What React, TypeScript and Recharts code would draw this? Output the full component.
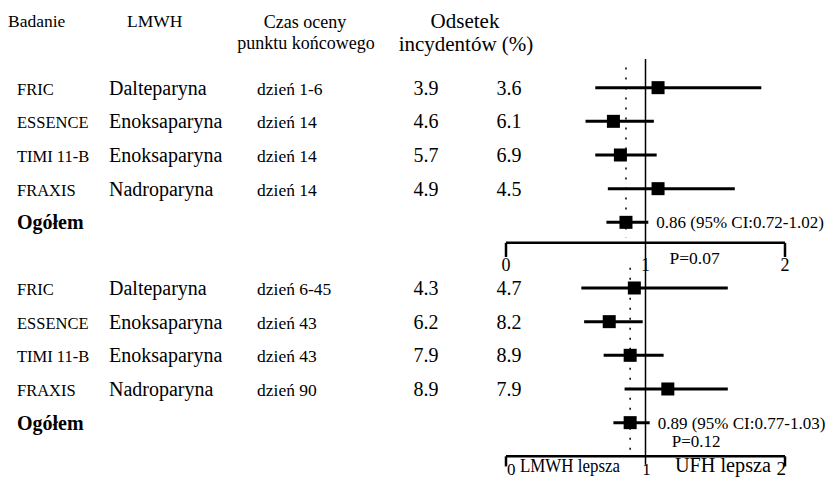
import { ScatterChart, Scatter, XAxis, YAxis, ErrorBar, ReferenceLine, ReferenceDot } from 'recharts';

const studies = ['FRIC', 'ESSENCE', 'TIMI 11-B', 'FRAXIS'];
const drugs = ['Dalteparyna', 'Enoksaparyna', 'Enoksaparyna', 'Nadroparyna'];
const daysEarly = ['dzień 1-6', 'dzień 14', 'dzień 14', 'dzień 14'];
const daysLate = ['dzień 6-45', 'dzień 43', 'dzień 43', 'dzień 90'];
const lmwhRateEarly = [3.9, 4.6, 5.7, 4.9];
const ufhRateEarly = [3.6, 6.1, 6.9, 4.5];
const lmwhRateLate = [4.3, 6.2, 7.9, 8.9];
const ufhRateLate = [4.7, 8.2, 8.9, 7.9];
const ratioEarly = [1.09, 0.77, 0.82, 1.09];
const lowEarly = [0.64, 0.57, 0.64, 0.73];
const highEarly = [1.83, 1.06, 1.08, 1.64];
const ratioLate = [0.92, 0.74, 0.89, 1.16];
const lowLate = [0.54, 0.56, 0.7, 0.85];
const highLate = [1.59, 0.98, 1.13, 1.59];
const pooledRatio = [0.86, 0.89];
const pooledLow = [0.72, 0.77];
const pooledHigh = [1.02, 1.03];
const pValues = ['0.07', '0.12'];

// layout (row units on the y scale)
const GROUP_START = [0, 5.95];
const AXIS_Y = [4.61, 10.95];
const serif = '"Liberation Serif", "Times New Roman", serif';

interface Row {
  pos: number;
  study: string;
  drug?: string;
  day?: string;
  lmwh?: number;
  ufh?: number;
  or: number;
  err: [number, number];
  pooled: boolean;
}

function buildGroup(g: number, days: string[], lm: number[], uf: number[], r: number[], lo: number[], hi: number[]): Row[] {
  const rows: Row[] = studies.map((s, i) => ({
    pos: GROUP_START[g] + i,
    study: s,
    drug: drugs[i],
    day: days[i],
    lmwh: lm[i],
    ufh: uf[i],
    or: r[i],
    err: [r[i] - lo[i], hi[i] - r[i]],
    pooled: false,
  }));
  rows.push({
    pos: GROUP_START[g] + 4,
    study: 'Ogółem',
    or: pooledRatio[g],
    err: [pooledRatio[g] - pooledLow[g], pooledHigh[g] - pooledRatio[g]],
    pooled: true,
  });
  return rows;
}

const rows = [
  ...buildGroup(0, daysEarly, lmwhRateEarly, ufhRateEarly, ratioEarly, lowEarly, highEarly),
  ...buildGroup(1, daysLate, lmwhRateLate, ufhRateLate, ratioLate, lowLate, highLate),
];

function T({ x, y, size, children, anchor = 'start', bold = false, len }: any) {
  return (
    <text
      x={x}
      y={y}
      fontSize={size}
      fontFamily={serif}
      fontWeight={bold ? 700 : 400}
      textAnchor={anchor}
      fill="#000"
      textLength={len}
      lengthAdjust={len ? 'spacingAndGlyphs' : undefined}
    >
      {children}
    </text>
  );
}

function RowTick(props: any) {
  const { y, payload } = props;
  const row = rows.find(r => Math.abs(r.pos - payload.value) < 1e-6);
  if (!row) return null;
  const b = y + 7;
  if (row.pooled) {
    return <T x={17} y={b} size={20} bold>{row.study}</T>;
  }
  return (
    <g>
      <T x={17} y={b} size={16.5}>{row.study}</T>
      <T x={109} y={b} size={20}>{row.drug}</T>
      <T x={257} y={b} size={17.5}>{row.day}</T>
      <T x={426} y={b} size={20} anchor="middle">{row.lmwh!.toFixed(1)}</T>
      <T x={509} y={b} size={20} anchor="middle">{row.ufh!.toFixed(1)}</T>
    </g>
  );
}

const Square = (p: any) => <rect x={p.cx - 6.5} y={p.cy - 6.5} width={13} height={13} fill="#000" />;

export default function App() {
  return (
    <div style={{ position: 'absolute', left: 0, top: 0, width: 832, height: 486, background: '#fff' }}>
      <svg width={832} height={60} style={{ position: 'absolute', left: 0, top: 0 }}>
        <T x={8} y={27} size={17.5}>Badanie</T>
        <T x={127} y={27} size={17.5}>LMWH</T>
        <T x={305} y={28} size={18} anchor="middle">Czas oceny</T>
        <T x={306} y={49} size={18} anchor="middle">punktu końcowego</T>
        <T x={465} y={28} size={21} anchor="middle">Odsetek</T>
        <T x={466} y={51} size={21} anchor="middle">incydentów (%)</T>
      </svg>
      <ScatterChart width={832} height={486} margin={{ top: 54, right: 47, bottom: 28, left: 0 }}>
        <XAxis type="number" dataKey="or" domain={[0, 2]} hide />
        <YAxis
          type="number"
          dataKey="pos"
          domain={[-1, 11]}
          reversed
          width={506}
          ticks={rows.map(r => r.pos)}
          interval={0}
          axisLine={false}
          tickLine={false}
          tick={(p: any) => <RowTick {...p} />}
        />
        <ReferenceLine segment={[{ x: 1, y: -0.85 }, { x: 1, y: 11.2 }]} stroke="#000" strokeWidth={1.5} ifOverflow="visible" />
        {[0, 1].map(g => (
          <ReferenceLine
            key={'dot' + g}
            segment={[{ x: pooledRatio[g], y: GROUP_START[g] - 0.6 }, { x: pooledRatio[g], y: AXIS_Y[g] - 0.15 }]}
            stroke="#000"
            strokeWidth={1.5}
            strokeDasharray="2 8"
            ifOverflow="visible"
          />
        ))}
        {[0, 1].map(g => (
          <ReferenceLine key={'ax' + g} segment={[{ x: 0, y: AXIS_Y[g] }, { x: 2, y: AXIS_Y[g] }]} stroke="#000" strokeWidth={2.5} ifOverflow="visible" />
        ))}
        {[0, 1].flatMap(g =>
          [0, 2].map(v => (
            <ReferenceLine
              key={'tk' + g + v}
              segment={[{ x: v, y: AXIS_Y[g] }, { x: v, y: AXIS_Y[g] + (g === 0 ? 0.42 : 0.3) }]}
              stroke="#000"
              strokeWidth={2.5}
              ifOverflow="visible"
            />
          ))
        )}
        {[0, 1, 2].map(v => (
          <ReferenceDot
            key={'lbl' + v}
            x={v}
            y={AXIS_Y[0]}
            r={0}
            ifOverflow="visible"
            shape={(p: any) => <T x={p.cx} y={p.cy + 28} size={18} anchor="middle">{String(v)}</T>}
          />
        ))}
        <ReferenceDot
          x={1}
          y={AXIS_Y[0]}
          r={0}
          ifOverflow="visible"
          shape={(p: any) => <T x={p.cx + 24} y={p.cy + 21} size={17.5}>{'P=' + pValues[0]}</T>}
        />
        <ReferenceDot
          x={0}
          y={AXIS_Y[1]}
          r={0}
          ifOverflow="visible"
          shape={(p: any) => (
            <g>
              <T x={p.cx + 1} y={p.cy + 19} size={17}>0</T>
              <T x={p.cx + 14} y={p.cy + 16} size={19} len={100}>LMWH lepsza</T>
            </g>
          )}
        />
        <ReferenceDot
          x={1}
          y={AXIS_Y[1]}
          r={0}
          ifOverflow="visible"
          shape={(p: any) => <T x={p.cx + 1} y={p.cy + 19} size={17} anchor="middle">1</T>}
        />
        <ReferenceDot
          x={2}
          y={AXIS_Y[1]}
          r={0}
          ifOverflow="visible"
          shape={(p: any) => (
            <g>
              <T x={p.cx - 110} y={p.cy + 16} size={20} len={96}>UFH lepsza</T>
              <T x={p.cx + 1} y={p.cy + 19} size={19} anchor="end">2</T>
            </g>
          )}
        />
        {[0, 1].map(g => (
          <ReferenceDot
            key={'ci' + g}
            x={pooledHigh[g]}
            y={GROUP_START[g] + 4}
            r={0}
            ifOverflow="visible"
            shape={(p: any) => (
              <g>
                <T x={p.cx + 8} y={p.cy + 6} size={17}>
                  {`${pooledRatio[g].toFixed(2)} (95% CI:${pooledLow[g].toFixed(2)}-${pooledHigh[g].toFixed(2)})`}
                </T>
                {g === 1 && <T x={p.cx + 22} y={p.cy + 24} size={17}>{'P=' + pValues[1]}</T>}
              </g>
            )}
          />
        ))}
        <Scatter data={rows} shape={Square} isAnimationActive={false}>
          <ErrorBar dataKey="err" direction="x" width={0} strokeWidth={3} stroke="#000" />
        </Scatter>
      </ScatterChart>
    </div>
  );
}
